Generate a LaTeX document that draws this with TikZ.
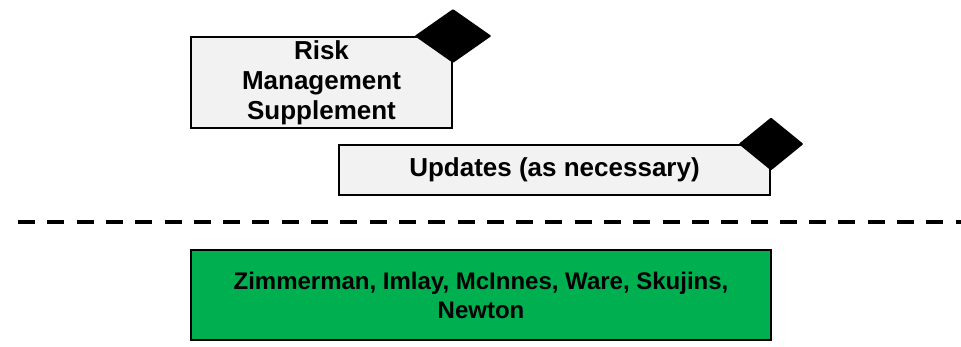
\documentclass[tikz,border=0pt]{standalone}
\usepackage{fontspec}
\setmainfont{Liberation Sans}
\usetikzlibrary{shapes.geometric}
\definecolor{boxgray}{RGB}{242,242,242}
\definecolor{teamgreen}{RGB}{0,176,80}
\tikzset{
	taskbox/.style={draw=black, line width=2pt, fill=boxgray, inner sep=0pt, align=center, font=\fontsize{26}{30}\selectfont\bfseries},
	milestone/.style={diamond, fill=black, inner sep=0pt, rounded corners=1pt},
	teambox/.style={draw=black, line width=2pt, fill=teamgreen, inner sep=0pt, align=center, font=\fontsize{24}{29}\selectfont\bfseries}
}
\begin{document}
\begin{tikzpicture}[x=1pt, y=-1pt]
		\useasboundingbox (0,0) rectangle (961,347);
		
		% Tasks
		\node[taskbox, minimum width=261pt, minimum height=91pt] (risk) at (321.5,82.5) {Risk\\Management\\Supplement};
		\node[taskbox, minimum width=431pt, minimum height=50pt] (updates) at (554.5,170) {Updates (as necessary)};
		
		% Milestones
		\node[milestone, minimum width=77pt, minimum height=54pt] (riskend) at (risk.north east) {};
		\node[milestone, minimum width=65pt, minimum height=53pt] (updatesend) at (updates.north east) {};
		
		% Divider
		\coordinate (divl) at (18,222);
		\coordinate (divr) at (961,222);
		\draw[line width=4pt, dash pattern=on 17pt off 12.3pt] (divl) -- (divr);
		
		% Team
		\node[teambox, minimum width=580pt, minimum height=90pt] (team) at (481,295) {Zimmerman, Imlay, McInnes, Ware, Skujins,\\Newton};
	\end{tikzpicture}
\end{document}
